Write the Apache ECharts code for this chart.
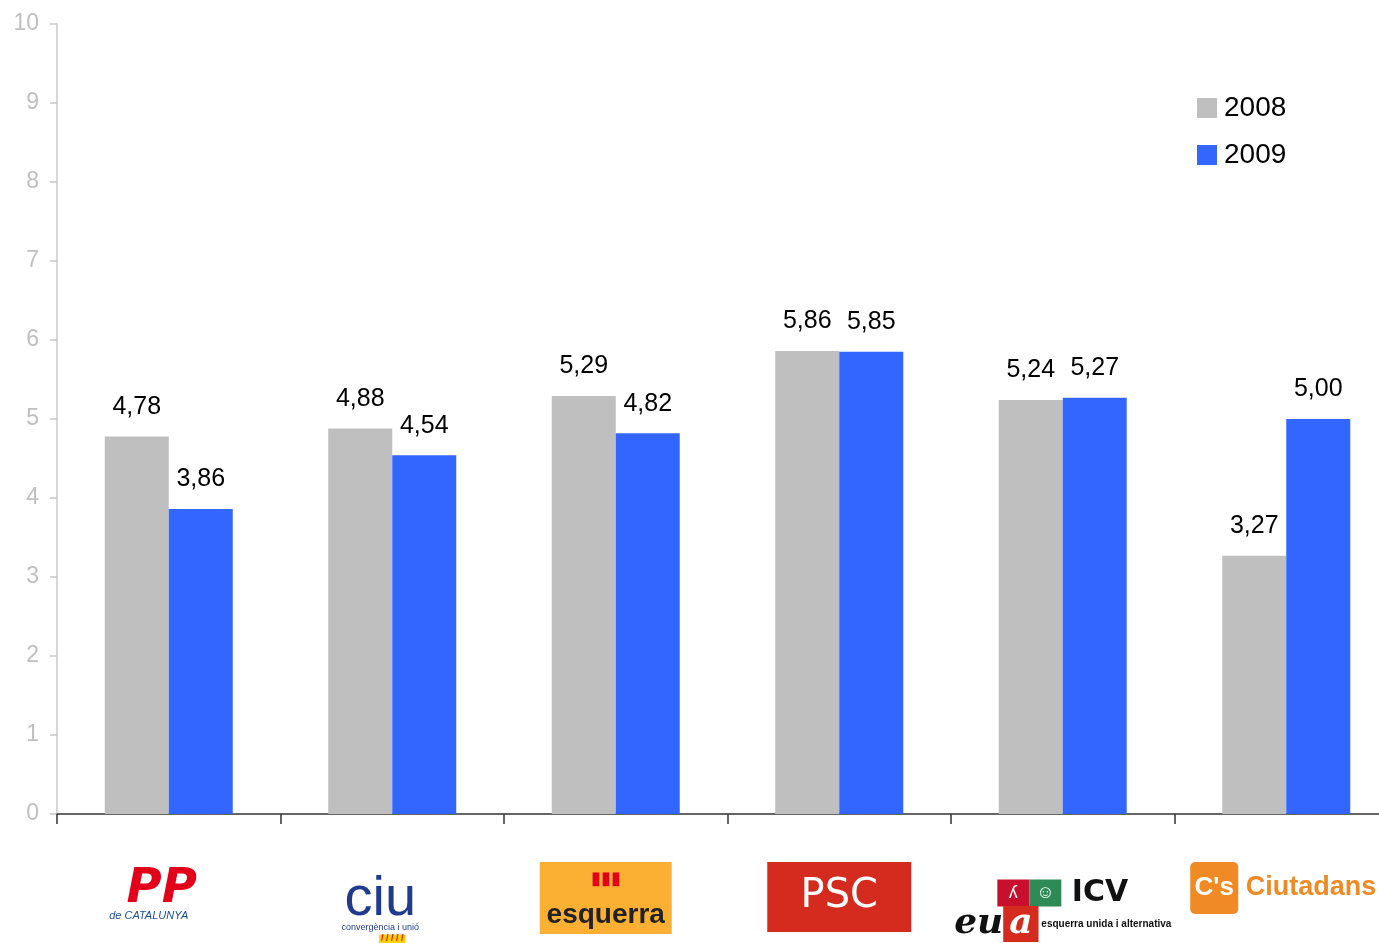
<!DOCTYPE html>
<html>
<head>
<meta charset="utf-8">
<title>Valoració de partits 2008 - 2009</title>
<script src="https://cdn.jsdelivr.net/npm/echarts@6/dist/echarts.min.js"></script>
<style>
    html, body { margin: 0; padding: 0; background: #fff; }
    #chart { width: 1379px; height: 943px; }
</style>
</head>
<body>
<div id="chart"></div>
<script>
    // dades
    var categories = ['PP', 'CiU', 'ERC', 'PSC', 'ICV-EUiA', "C's"];
    var values2008 = [4.78, 4.88, 5.29, 5.86, 5.24, 3.27];
    var values2009 = [3.86, 4.54, 4.82, 5.85, 5.27, 5.00];
    var seriesNames = ['2008', '2009'];
    var yMin = 0, yMax = 10, yStep = 1;

    var font = 'Arial, "Liberation Sans", sans-serif';
    var wide = '"DejaVu Sans", Verdana, sans-serif';

    // logos fets amb text enriquit
    var logoText = {
        'PP': '{pp|PP}\n{ppSub|de CATALUNYA}',
        'CiU': '{sp| }\n{ciu|ciu}\n{ciuSub|convergència i unió}\n{ciuBar|/ / / / /}',
        'ERC': '{ercTop|▮▮▮}{gap| }\n{erc|esquerra}{gap| }',
        'PSC': '{psc|PSC}',
        'ICV-EUiA': '{sp| }\n{icvR|ʎ}{icvG|☺}{icv| ICV}\n{euia|eu}{euiaR|a}{euiaSub| esquerra unida i alternativa}',
        "C's": "{cs|C's}{cit| Ciutadans}{gap2| }"
    };

    function fmt(v) {
        return v.toFixed(2).replace('.', ',');
    }

    var myChart = echarts.init(document.getElementById('chart'));

    var option = {
        animation: false,
        backgroundColor: '#fff',
        textStyle: { fontFamily: font },
        grid: { left: 57, top: 24, width: 1341, bottom: 129, containLabel: false, outerBoundsMode: 'none' },
        legend: {
            data: seriesNames,
            orient: 'vertical',
            left: 1192,
            top: 89,
            icon: 'rect',
            itemWidth: 20,
            itemHeight: 20,
            itemGap: 19,
            textStyle: { fontSize: 28, color: '#000', fontFamily: font, padding: [0, 0, 0, 2] }
        },
        xAxis: {
            type: 'category',
            data: categories,
            axisLine: { lineStyle: { color: '#333', width: 1.5 } },
            axisTick: { show: true, length: 10, lineStyle: { color: '#333', width: 1.5 } },
            axisLabel: {
                interval: 0,
                margin: 48,
                formatter: function (v) { return logoText[v]; },
                rich: {
                    pp: { fontSize: 48, fontWeight: 'bold', fontStyle: 'italic', color: '#E2001A', fontFamily: wide, lineHeight: 48, padding: [8, 14, 0, 0] },
                    ppSub: { fontSize: 11, fontStyle: 'italic', color: '#1B4F9C', fontFamily: font, lineHeight: 12, padding: [0, 40, 0, 0] },
                    sp: { fontSize: 4, lineHeight: 16 },
                    gap: { fontSize: 4, width: 20 },
                    gap2: { fontSize: 4, width: 6 },
                    ciu: { fontSize: 56, color: '#213B8C', fontFamily: font, lineHeight: 44, padding: [0, 24, 0, 0] },
                    ciuSub: { fontSize: 9, color: '#213B8C', fontFamily: font, lineHeight: 12, padding: [0, 24, 0, 0] },
                    ciuBar: { fontSize: 9, fontWeight: 'bold', color: '#E3001B', backgroundColor: '#FFD200', lineHeight: 10, padding: [0, 2] },
                    ercTop: { fontSize: 18, color: '#E3001B', backgroundColor: '#FBB034', width: 132, height: 34, align: 'center', verticalAlign: 'bottom', lineHeight: 34 },
                    erc: { fontSize: 28, fontWeight: 'bold', color: '#222', backgroundColor: '#FBB034', fontFamily: font, width: 132, height: 38, align: 'center', lineHeight: 38 },
                    psc: { fontSize: 40, color: '#fff', backgroundColor: '#D52B1E', fontFamily: wide, width: 144, height: 70, lineHeight: 70, align: 'center' },
                    icvR: { fontSize: 18, color: '#fff', backgroundColor: '#C8102E', width: 32, height: 27, lineHeight: 30, align: 'center' },
                    icvG: { fontSize: 18, color: '#fff', backgroundColor: '#2E8B57', width: 32, height: 27, lineHeight: 30, align: 'center' },
                    icv: { fontSize: 30, fontWeight: 900, color: '#111', fontFamily: wide, lineHeight: 30 },
                    euia: { fontSize: 36, fontWeight: 'bold', fontStyle: 'italic', color: '#111', fontFamily: '"DejaVu Serif", serif', lineHeight: 32 },
                    euiaR: { fontSize: 36, fontWeight: 'bold', fontStyle: 'italic', color: '#fff', backgroundColor: '#D52B1E', fontFamily: '"DejaVu Serif", serif', lineHeight: 32, padding: [0, 6] },
                    euiaSub: { fontSize: 10, fontWeight: 'bold', color: '#111', fontFamily: font },
                    cs: { fontSize: 26, fontWeight: 'bold', color: '#fff', backgroundColor: '#F08A24', borderRadius: 5, width: 48, height: 52, lineHeight: 52, align: 'center', fontFamily: font },
                    cit: { fontSize: 27, fontWeight: 'bold', color: '#F08A24', fontFamily: font, lineHeight: 52 }
                }
            }
        },
        yAxis: {
            type: 'value',
            min: yMin,
            max: yMax,
            interval: yStep,
            axisLine: { show: true, lineStyle: { color: '#c8c8c8', width: 1.5 } },
            axisTick: { show: true, length: 7, lineStyle: { color: '#c8c8c8', width: 1.5 } },
            axisLabel: { fontSize: 23, color: '#bfbfbf', margin: 18, fontFamily: font },
            splitLine: { show: false }
        },
        series: [
            {
                name: seriesNames[0],
                type: 'bar',
                data: values2008,
                barWidth: 64,
                barGap: '0%',
                itemStyle: { color: '#BFBFBF' },
                label: {
                    show: true, position: 'top', distance: 17,
                    fontSize: 25, color: '#000', fontFamily: font,
                    formatter: function (p) { return fmt(p.value); }
                }
            },
            {
                name: seriesNames[1],
                type: 'bar',
                data: values2009,
                barWidth: 64,
                barGap: '0%',
                itemStyle: { color: '#3366FF' },
                label: {
                    show: true, position: 'top', distance: 17,
                    fontSize: 25, color: '#000', fontFamily: font,
                    formatter: function (p) { return fmt(p.value); }
                }
            }
        ]
    };

    myChart.setOption(option);
</script>
</body>
</html>
